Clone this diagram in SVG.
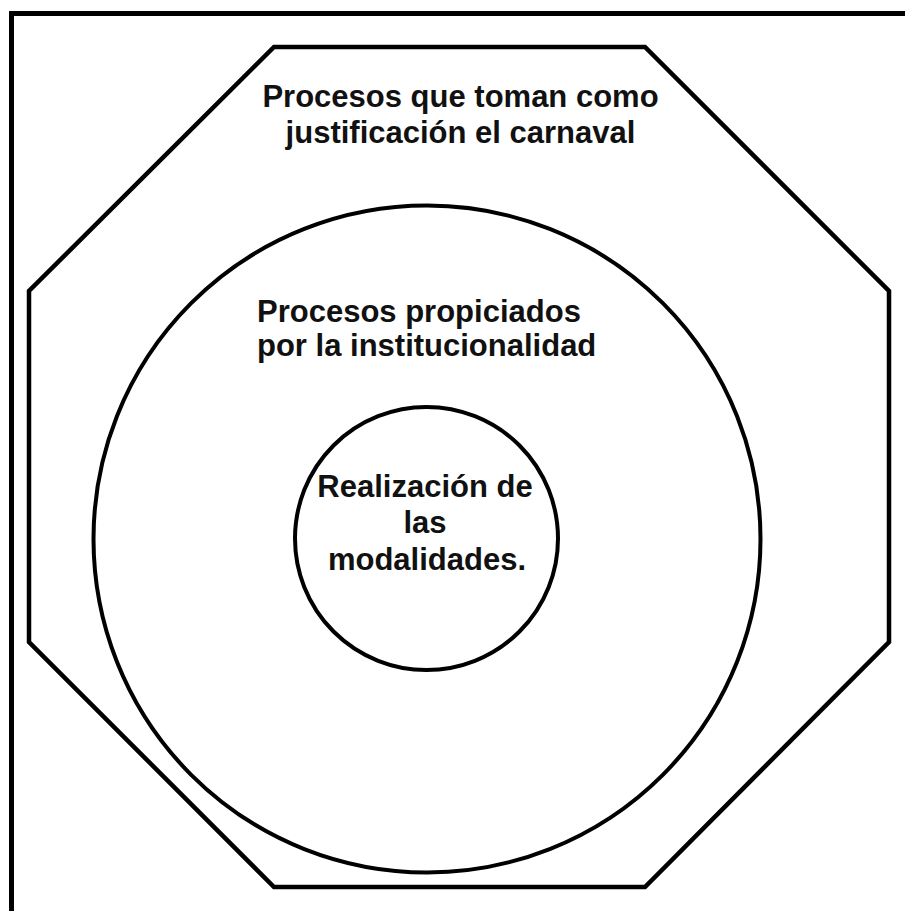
<svg xmlns="http://www.w3.org/2000/svg" width="905" height="911" viewBox="0 0 905 911">
<style>
.shape{fill:none;stroke:#000;}
.lbl{font-family:"Liberation Sans",Arial,sans-serif;font-weight:bold;font-size:31px;fill:#111;}
</style>
<rect width="905" height="911" fill="#fff"/>
<g id="frame"><rect class="shape" x="11.5" y="13.5" width="905" height="910" stroke-width="5"/></g>
<g id="octagon">
<polygon class="shape" stroke-width="4.5" points="274,47 645,47 889,291 889,642 645,887 274,887 29,642 29,291"/>
<text class="lbl" x="460.5" y="107" text-anchor="middle">Procesos que toman como</text>
<text class="lbl" x="460.5" y="143" text-anchor="middle">justificación el carnaval</text>
</g>
<g id="outer-circle">
<circle class="shape" stroke-width="4" cx="427" cy="539" r="333.5"/>
<text class="lbl" x="257" y="322">Procesos propiciados</text>
<text class="lbl" x="257" y="356">por la institucionalidad</text>
</g>
<g id="inner-circle">
<circle class="shape" stroke-width="4" cx="426.5" cy="538.5" r="131.5"/>
<text class="lbl" x="425" y="497" text-anchor="middle">Realización de</text>
<text class="lbl" x="425" y="533" text-anchor="middle">las</text>
<text class="lbl" x="427" y="570" text-anchor="middle">modalidades.</text>
</g>
<g id="connectors"/>
</svg>
